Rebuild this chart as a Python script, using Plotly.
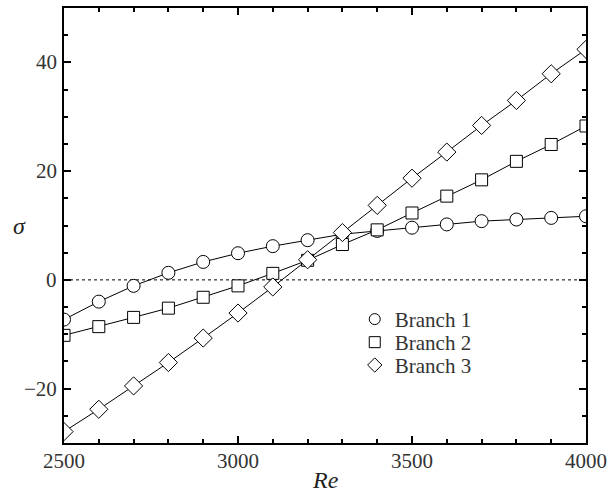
import plotly.graph_objects as go

re_vals = [2500, 2600, 2700, 2800, 2900, 3000, 3100, 3200, 3300, 3400, 3500, 3600, 3700, 3800, 3900, 4000]
branch1 = [-7.3, -4.0, -1.1, 1.3, 3.3, 4.9, 6.2, 7.3, 8.4, 9.0, 9.6, 10.2, 10.8, 11.1, 11.4, 11.7]
branch2 = [-10.2, -8.6, -6.9, -5.2, -3.2, -1.1, 1.2, 3.6, 6.5, 9.2, 12.3, 15.4, 18.4, 21.8, 24.9, 28.3]
branch3 = [-27.9, -23.8, -19.5, -15.2, -10.7, -6.1, -1.3, 3.7, 8.7, 13.7, 18.7, 23.5, 28.4, 33.0, 37.9, 42.4]
names = ["Branch 1", "Branch 2", "Branch 3"]
symbols = ["circle", "square", "diamond"]
sizes = [13, 12, 14]
x_ticks = [2500, 3000, 3500, 4000]
x_tick_labels = ["2500", "3000", "3500", "4000"]
y_ticks = [-20, 0, 20, 40]
y_tick_labels = ["\u221220", "0", "20", "40"]
x_range = [2500, 4000]
y_range = [-30, 50]

FONT = "Liberation Serif"
TICKFONT = dict(family=FONT, size=21, color="#333")
fig = go.Figure()

for ys, name, sym, sz in zip([branch1, branch2, branch3], names, symbols, sizes):
    fig.add_trace(go.Scatter(
        x=re_vals, y=ys, mode="lines+markers", showlegend=False,
        line=dict(color="black", width=1),
        marker=dict(symbol=sym, size=sz, color="white",
                    line=dict(color="black", width=1)),
    ))

legend_ids = ["legend", "legend2", "legend3"]
for name, sym, lg in zip(names, symbols, legend_ids):
    fig.add_trace(go.Scatter(
        x=[None], y=[None], mode="markers", name=name, legend=lg,
        marker=dict(symbol=sym, size=11, color="white",
                    line=dict(color="black", width=1)),
    ))

# invisible trace creating the overlay axes that carry the minor ticks
fig.add_trace(go.Scatter(x=[None], y=[None], xaxis="x2", yaxis="y2",
                         showlegend=False, hoverinfo="skip"))

fig.add_hline(y=0, line=dict(color="black", width=1, dash="dot"), layer="below")

major = dict(showgrid=False, zeroline=False, showline=True, linecolor="black", linewidth=2,
             mirror="ticks", ticks="inside", ticklen=7, tickwidth=1.5, tickcolor="black",
             showticklabels=False)
minor_ax = dict(showgrid=False, zeroline=False, showline=True, linecolor="black", linewidth=2,
                mirror="ticks", ticks="inside", ticklen=4, tickwidth=1.5, tickcolor="black",
                showticklabels=False)

leg_common = dict(x=0.557, xanchor="left", yanchor="middle", bgcolor="rgba(0,0,0,0)",
                  font=dict(family=FONT, size=21, color="#333"), itemwidth=30)

fig.update_layout(
    width=607, height=499,
    margin=dict(l=64, r=21, t=6, b=56),
    plot_bgcolor="white", paper_bgcolor="white",
    xaxis=dict(range=x_range, tickmode="array", tickvals=x_ticks, **major),
    yaxis=dict(range=y_range, tickmode="array", tickvals=y_ticks, **major),
    xaxis2=dict(range=x_range, overlaying="x", anchor="y", side="bottom",
                tick0=2500, dtick=100, **minor_ax),
    yaxis2=dict(range=y_range, overlaying="y", anchor="x", side="left",
                tick0=0, dtick=5, **minor_ax),
    legend=dict(y=0.284, **leg_common),
    legend2=dict(y=0.231, **leg_common),
    legend3=dict(y=0.1785, **leg_common),
)

# tick labels placed through the axis scales
for v, t in zip(x_ticks, x_tick_labels):
    fig.add_annotation(text=t, xref="x", yref="paper", x=v, y=0,
                       xanchor="center", yanchor="top", yshift=-4,
                       showarrow=False, font=TICKFONT)
for v, t in zip(y_ticks, y_tick_labels):
    fig.add_annotation(text=t, xref="paper", yref="y", x=0, y=v,
                       xanchor="right", yanchor="middle", xshift=-5,
                       showarrow=False, font=TICKFONT)

fig.add_annotation(text="<i>σ</i>", xref="paper", yref="paper", x=-0.085, y=0.5,
                   xanchor="center", showarrow=False,
                   font=dict(family=FONT, size=24, color="#222"))
fig.add_annotation(text="<i>Re</i>", xref="paper", yref="paper", x=0.5, y=-0.085,
                   xanchor="center", yanchor="middle", showarrow=False,
                   font=dict(family=FONT, size=24, color="#222"))

fig.write_html("out.html")
